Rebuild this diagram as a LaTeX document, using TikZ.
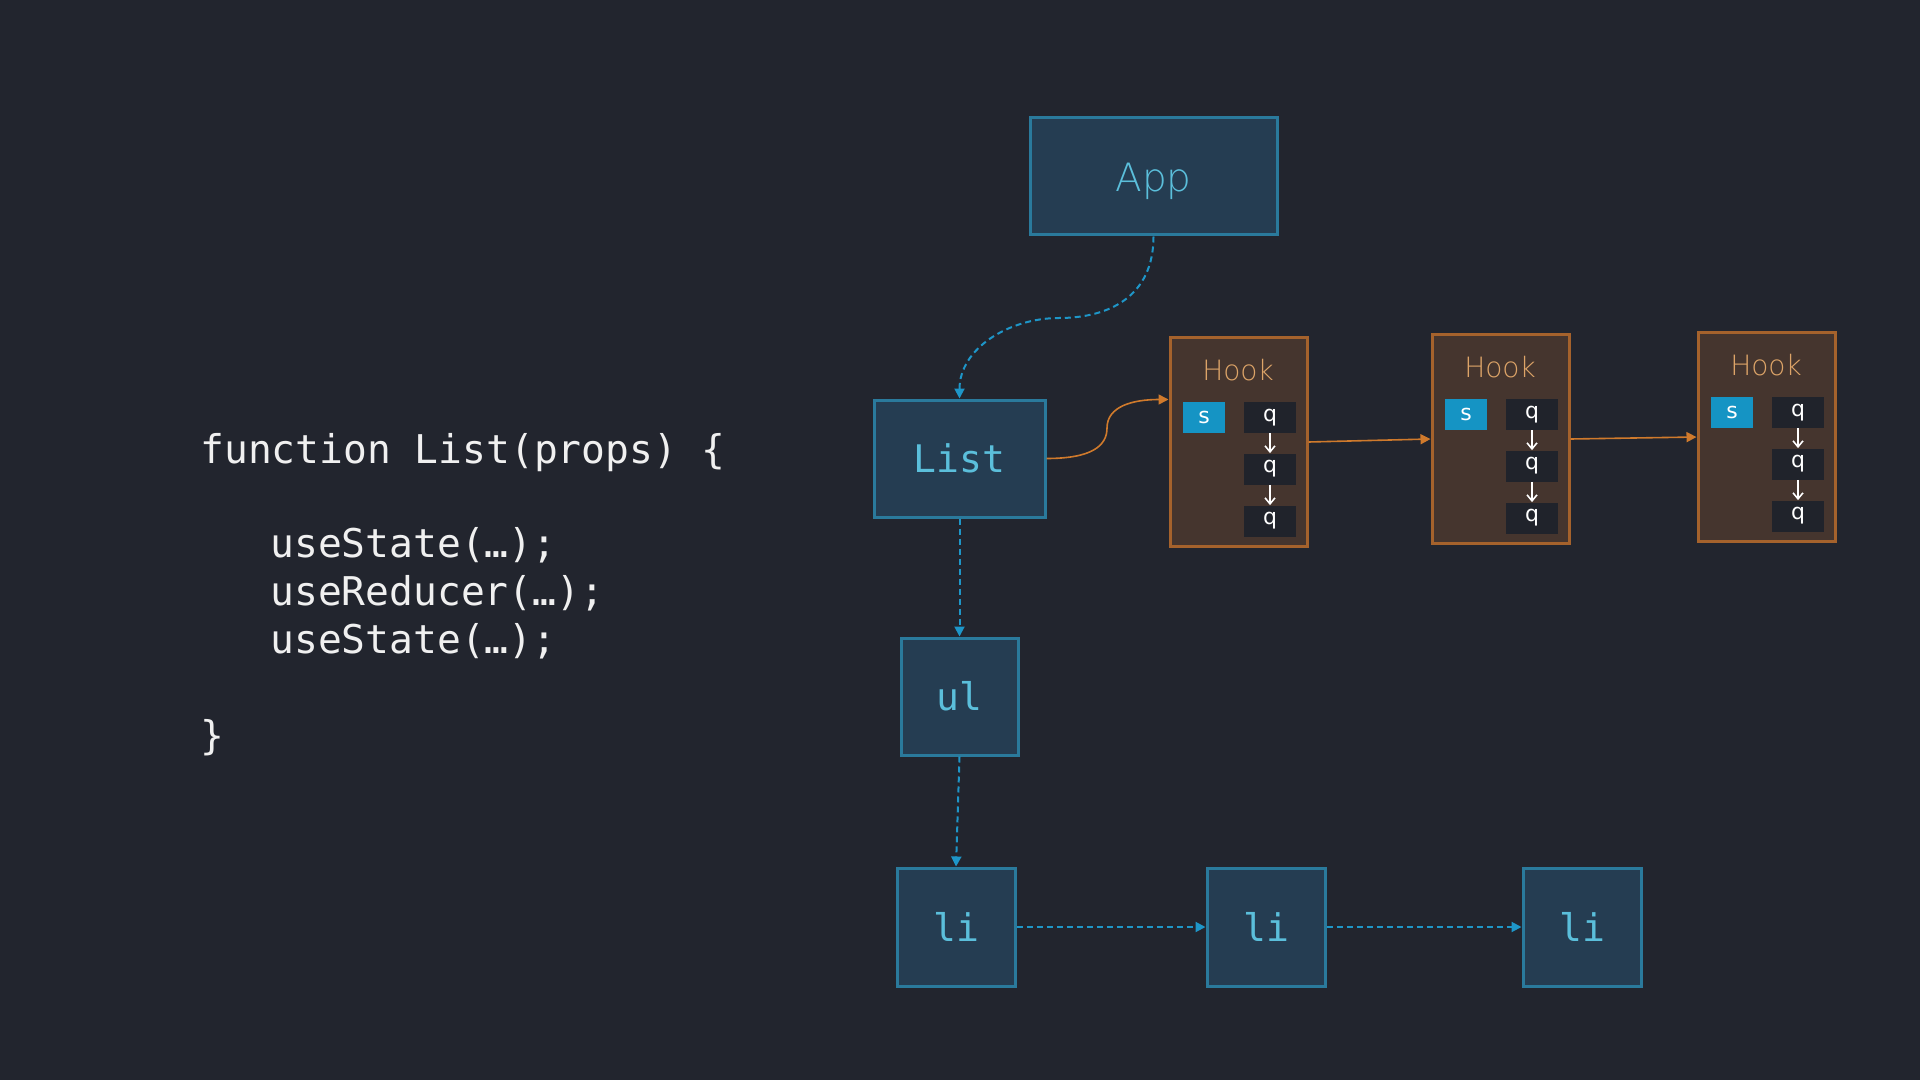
\documentclass[tikz,border=0pt]{standalone}
\usepackage{fontspec}
\setmainfont{DejaVu Sans}
\newfontfamily\codefont{DejaVu Sans Mono}
\newfontfamily\lightfont{DejaVu Sans ExtraLight}
\usetikzlibrary{arrows.meta}
\definecolor{bgc}{HTML}{22252E}
\definecolor{boxfill}{HTML}{253D52}
\definecolor{boxborder}{HTML}{2A7A9C}
\definecolor{labelc}{HTML}{5BBFDB}
\definecolor{bconnc}{HTML}{1E96C8}
\definecolor{hookfill}{HTML}{45352E}
\definecolor{hookborder}{HTML}{A5622C}
\definecolor{oconnc}{HTML}{D07A2C}
\definecolor{hooktext}{HTML}{DDA468}
\definecolor{sfill}{HTML}{1594C4}
\definecolor{qfill}{HTML}{20232B}
\definecolor{codec}{HTML}{F0F0F0}
\tikzset{
  tnode/.style={draw=boxborder, fill=boxfill, line width=1.5pt, inner sep=0pt,
    text=labelc, font=\codefont\fontsize{19pt}{22pt}\selectfont},
  appnode/.style={tnode, font=\lightfont\fontsize{19.5pt}{22pt}\selectfont},
  hookbox/.style={draw=hookborder, fill=hookfill, line width=1.5pt, inner sep=0pt,
    minimum width=68.5pt, minimum height=104pt},
  hooktitle/.style={inner sep=0pt, text=hooktext, font=\lightfont\fontsize{14pt}{16pt}\selectfont},
  sbox/.style={fill=sfill, inner sep=0pt, minimum width=21pt, minimum height=15.5pt,
    text=white, font=\fontsize{11pt}{13pt}\selectfont},
  qbox/.style={fill=qfill, inner sep=0pt, minimum width=26pt, minimum height=15.5pt,
    text=white, font=\fontsize{11pt}{13pt}\selectfont},
  qarrow/.style={draw=white, line width=0.8pt, -{Straight Barb[length=3pt,width=5pt]}},
  bconn/.style={draw=bconnc, line width=1pt, dash pattern=on 3pt off 2pt,
    -{Triangle[length=5pt,width=5pt]}},
  oconn/.style={draw=oconnc, line width=0.8pt, -{Triangle[length=5pt,width=5pt]}},
  code/.style={inner sep=0pt, anchor=base west, text=codec,
    font=\codefont\fontsize{19.8pt}{24pt}\selectfont}
}
\newcommand\hookgroup[3]{%
  \begin{scope}[shift={(#2,#3)}]
    \node[hookbox] (#1) at (68.5,104) {};
    \node[hooktitle] (#1t) at (68,32) {Hook};
    \node[sbox] (#1s) at (34,79.5) {s};
    \node[qbox] (#1q1) at (100,79.5) {q};
    \node[qbox] (#1q2) at (100,131) {q};
    \node[qbox] (#1q3) at (100,183) {q};
    \draw[qarrow] (#1q1) -- (#1q2);
    \draw[qarrow] (#1q2) -- (#1q3);
  \end{scope}}
\begin{document}
\begin{tikzpicture}[x=0.5pt,y=-0.5pt]
\fill[bgc] (0,0) rectangle (1920,1080);
\useasboundingbox (0,0) rectangle (1920,1080);

% code
\node[code] (c1) at (200,463) {function List(props) \{};
\node[code] (c2) at (270,557) {useState(…);};
\node[code] (c3) at (270,605) {useReducer(…);};
\node[code] (c4) at (270,653) {useState(…);};
\node[code] (c5) at (200,749) {\}};

% tree nodes
\node[appnode, minimum width=123.5pt, minimum height=58.5pt] (app) at (1153.5,176.5) {};
\node[inner sep=0pt, text=labelc, font=\lightfont\fontsize{19.5pt}{22pt}\selectfont] (applabel) at (1153.5,181) {App};
\node[tnode, minimum width=85.5pt, minimum height=58.5pt] (list) at (959.5,458.5) {List};
\node[tnode, minimum width=58.5pt, minimum height=58.5pt] (ul) at (959.5,696.5) {ul};
\node[tnode, minimum width=59pt, minimum height=59pt] (li1) at (956,927) {li};
\node[tnode, minimum width=59pt, minimum height=59pt] (li2) at (1266,927) {li};
\node[tnode, minimum width=59pt, minimum height=59pt] (li3) at (1582,927) {li};

% hooks
\hookgroup{h1}{1170}{338}
\hookgroup{h2}{1432}{335}
\hookgroup{h3}{1698}{333}

% blue connectors
\coordinate (m1) at (1059,318);
\draw[bconn] (app.south) .. controls +(0,60) and +(50,0) .. (m1)
  .. controls +(-50,0) and +(0,-50) .. (list.north);
\draw[bconn] (list.south) -- (ul.north);
\draw[bconn] (ul.south) -- (li1.north);
\draw[bconn] (li1.east) -- (li2.west);
\draw[bconn] (li2.east) -- (li3.west);

% orange connectors
\coordinate (m2) at (1107,428);
\coordinate (h1in) at ([yshift=-31.5pt]h1.north west);
\draw[oconn] (list.east) .. controls +(45,0) and +(0,18) .. (m2)
  .. controls +(0,-22) and +(-35,0) .. (h1in);
\draw[oconn] (h1.east) -- (h2.west);
\draw[oconn] (h2.east) -- (h3.west);
\end{tikzpicture}
\end{document}
